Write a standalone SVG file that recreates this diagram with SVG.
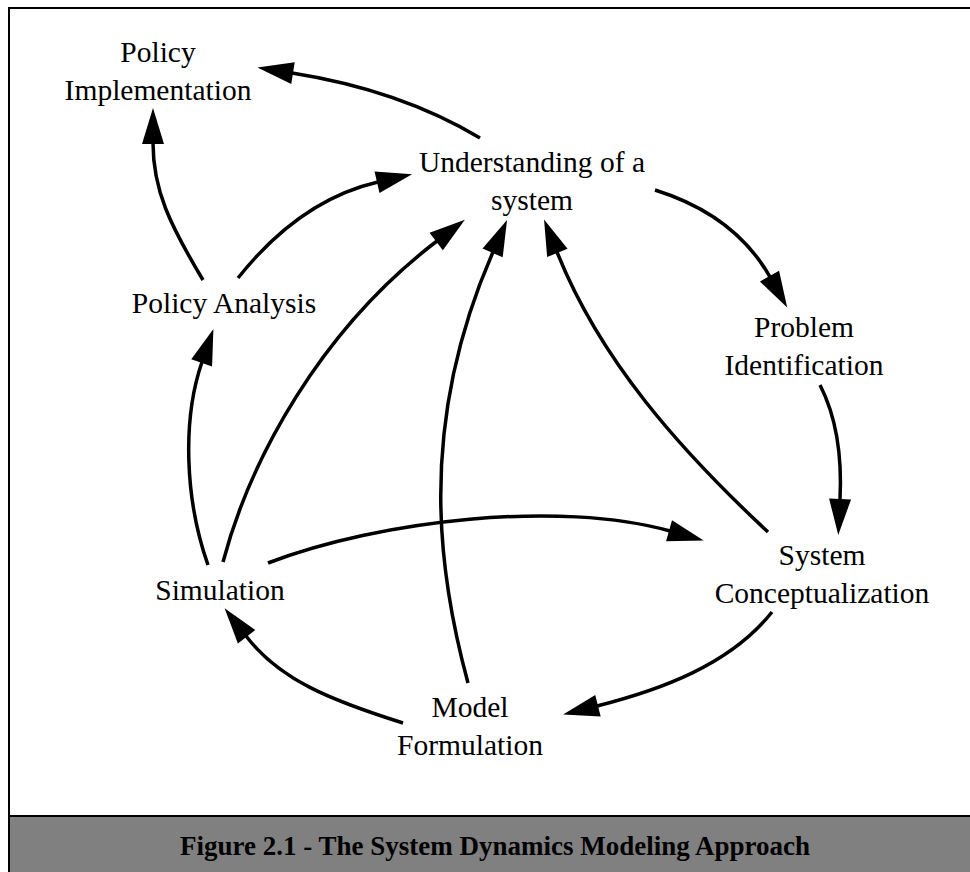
<svg xmlns="http://www.w3.org/2000/svg" width="970" height="872" viewBox="0 0 970 872">
<style>
.lbl{font-family:"Liberation Serif","Times New Roman",serif;font-size:29.5px;fill:#000;text-anchor:middle}
.cap{font-family:"Liberation Serif","Times New Roman",serif;font-size:27px;font-weight:bold;fill:#000;text-anchor:middle}
.edge{fill:none;stroke:#000;stroke-width:3.5;marker-end:url(#ah)}
</style>
<defs>
<marker id="ah" markerUnits="userSpaceOnUse" markerWidth="37" markerHeight="23" refX="1" refY="11" orient="auto" overflow="visible">
<path d="M0,0 L36,11 L0,22 Z" fill="#000"/>
</marker>
</defs>
<rect x="0" y="0" width="970" height="872" fill="#fff"/>
<g id="frame">
<rect x="9" y="8" width="970" height="870" fill="none" stroke="#000" stroke-width="2"/>
<rect x="9" y="816" width="970" height="60" fill="#808080" stroke="#000" stroke-width="2"/>
<text class="cap" x="495" y="855">Figure 2.1 - The System Dynamics Modeling Approach</text>
</g>
<g id="connectors">
<path class="edge" d="M480,138 Q400,90 292,73"/>
<path class="edge" d="M203,280 C170,225 153,190 153,143"/>
<path class="edge" d="M238,278 Q300,200 378,182"/>
<path class="edge" d="M223,562 C250,460 320,330 437,241"/>
<path class="edge" d="M468,683 C440,580 415,430 493,252"/>
<path class="edge" d="M768,532 C680,450 600,360 557,252"/>
<path class="edge" d="M655,190 Q735,215 770,277"/>
<path class="edge" d="M820,385 C838,420 842,460 840,500"/>
<path class="edge" d="M268,563 C380,520 560,500 670,531"/>
<path class="edge" d="M772,612 C730,665 660,690 597,706"/>
<path class="edge" d="M403,723 C330,700 280,680 246,636"/>
<path class="edge" d="M208,565 C185,500 182,420 202,362"/>
</g>
<g id="policy-implementation"><text class="lbl" x="158" y="62">Policy</text><text class="lbl" x="158" y="100">Implementation</text></g>
<g id="understanding"><text class="lbl" x="532" y="172">Understanding of a</text><text class="lbl" x="532" y="210">system</text></g>
<g id="policy-analysis"><text class="lbl" x="224" y="313">Policy Analysis</text></g>
<g id="problem-identification"><text class="lbl" x="804" y="337">Problem</text><text class="lbl" x="804" y="375">Identification</text></g>
<g id="system-conceptualization"><text class="lbl" x="822" y="565">System</text><text class="lbl" x="822" y="603">Conceptualization</text></g>
<g id="simulation"><text class="lbl" x="220" y="600">Simulation</text></g>
<g id="model-formulation"><text class="lbl" x="470" y="717">Model</text><text class="lbl" x="470" y="755">Formulation</text></g>
</svg>
